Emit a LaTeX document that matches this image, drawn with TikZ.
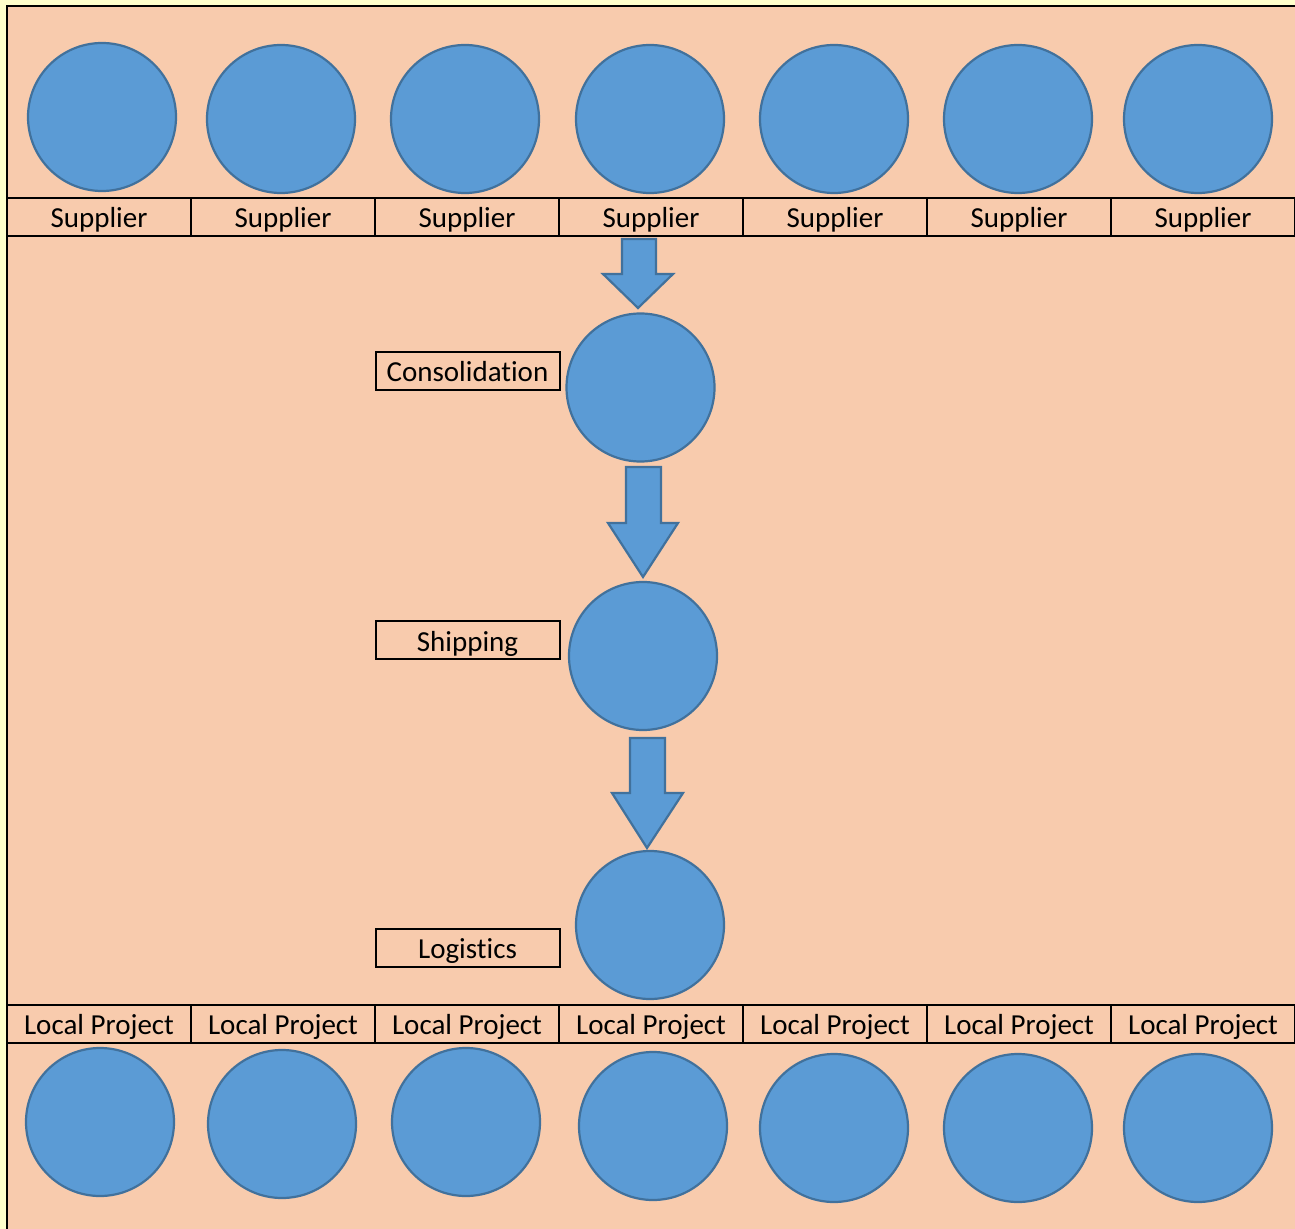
\documentclass[tikz,border=0pt]{standalone}
\usepackage{fontspec}
\setmainfont{Carlito}[Ligatures=NoCommon]
\definecolor{outerbg}{HTML}{FFFFCC}
\definecolor{peach}{HTML}{F8CBAD}
\definecolor{blobfill}{HTML}{5B9BD5}
\definecolor{blobline}{HTML}{41719C}
\begin{document}
\begin{tikzpicture}[x=0.5pt,y=-0.5pt,
  blob/.style={circle,fill=blobfill,draw=blobline,line width=1.1pt,inner sep=0pt,minimum size=74pt},
  cell/.style={rectangle,draw=black,line width=1pt,inner sep=0pt,minimum width=92pt,minimum height=19pt,
     font=\fontsize{14.5pt}{16pt}\selectfont,text height=13pt,text depth=2pt},
  blockarrow/.style={fill=blobfill,draw=blobline,line width=1.1pt,line join=miter}]
\useasboundingbox (0,0) rectangle (1295,1229);
\fill[outerbg] (0,0) rectangle (1295,1229);
\fill[peach] (7,6) rectangle (1295,1229);
\draw[line width=1pt] (7,1229) -- (7,6) -- (1295,6);
% supplier circles
\foreach \i/\x/\y in {1/102/117,2/281/119,3/465/119,4/650/119,5/834/119,6/1018/119,7/1198/119}
  \node[blob] (s\i) at (\x,\y) {};
% supplier cells
\foreach \i in {1,...,7}
  \node[cell] (sc\i) at ({7+184*(\i-1)+92},217) {Supplier};
% local project cells
\foreach \i in {1,...,7}
  \node[cell] (lc\i) at ({7+184*(\i-1)+92},1023.5) {Local Project};
% local project circles
\foreach \i/\x/\y in {1/100/1122,2/282/1124,3/466/1122,4/653/1126,5/834/1128,6/1018/1128,7/1198/1128}
  \node[blob] (p\i) at (\x,\y) {};
% middle chain
\node[blob] (cons) at (640.5,387.5) {};
\node[blob] (ship) at (643,656) {};
\node[blob] (logi) at (650,925) {};
\node[cell] (consl) at (467.5,371) {Consolidation};
\node[cell] (shipl) at (467.5,640) {Shipping};
\node[cell] (logil) at (467.5,947.5) {Logistics};
% block arrows
\draw[blockarrow] (622,239) -- (656,239) -- (656,274) -- (673,274) -- (638,308) -- (603,274) -- (622,274) -- cycle;
\draw[blockarrow] (626,467) -- (661,467) -- (661,523) -- (678,523) -- (643,577) -- (608,523) -- (626,523) -- cycle;
\draw[blockarrow] (630,738) -- (665,738) -- (665,793) -- (683,793) -- (647,848) -- (612,793) -- (630,793) -- cycle;
\end{tikzpicture}
\end{document}
